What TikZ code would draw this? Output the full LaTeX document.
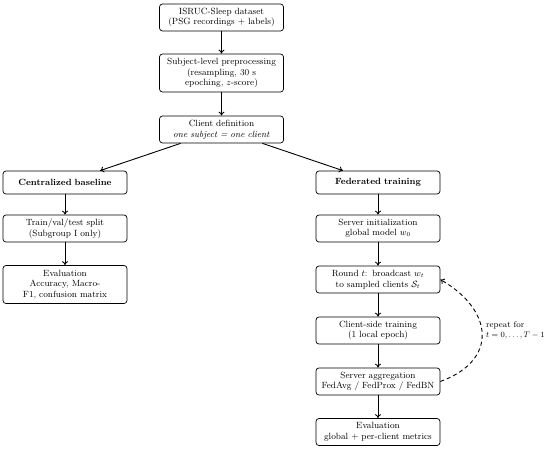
\documentclass[tikz,border=0pt]{standalone}
\usepackage{amsmath}
\usetikzlibrary{arrows.meta}
\begin{document}
\begin{tikzpicture}[x=1pt,y=-1pt,
  font=\fontsize{9}{10.5}\selectfont,
  box/.style={draw, rounded corners=3pt, line width=0.7pt, minimum width=124pt, text width=120pt, align=center, inner xsep=2pt, inner ysep=3pt},
  one/.style={box, minimum height=23pt},
  two/.style={box, minimum height=27pt},
  three/.style={box, minimum height=38pt},
  arr/.style={-{To[length=4pt,width=6pt]}, line width=0.9pt},
  darr/.style={-{To[length=4pt,width=6pt]}, line width=0.9pt, dash pattern=on 4pt off 3pt}
]
\useasboundingbox (0,0) rectangle (550,450);

\node[two]   (data) at (221.5,17.5) {ISRUC-Sleep dataset\\(PSG recordings + labels)};
\node[three] (prep) at (221.5,73)   {Subject-level preprocessing\\(resampling, 30 s\\epoching, $z$-score)};
\node[two]   (cdef) at (221.5,129.5){Client definition\\\textit{one subject = one client}};

\node[one]   (cent) at (65,182.5)   {\textbf{Centralized baseline}};
\node[two]   (split) at (65,228.5)  {Train/val/test split\\(Subgroup I only)};
\node[three] (evl) at (65,284.5)    {Evaluation\\Accuracy, Macro-\\F1, confusion matrix};

\node[one]   (fed) at (378,182.5)   {\textbf{Federated training}};
\node[two]   (init) at (378,228.5)  {Server initialization\\global model $w_0$};
\node[two]   (round) at (378,279.5) {Round $t$: broadcast $w_t$\\to sampled clients $\mathcal{S}_t$};
\node[two]   (ctrain) at (378,330.5){Client-side training\\(1 local epoch)};
\node[two]   (agg) at (378,381.5)   {Server aggregation\\FedAvg / FedProx / FedBN};
\node[two]   (evr) at (378,432)     {Evaluation\\global + per-client metrics};

\draw[arr] (data) -- (prep);
\draw[arr] (prep) -- (cdef);
\draw[arr] (cdef) -- (cent);
\draw[arr] (cdef) -- (fed);
\draw[arr] (cent) -- (split);
\draw[arr] (split) -- (evl);
\draw[arr] (fed) -- (init);
\draw[arr] (init) -- (round);
\draw[arr] (round) -- (ctrain);
\draw[arr] (ctrain) -- (agg);
\draw[arr] (agg) -- (evr);

\draw[darr] (agg.east) to[out=20,in=-30,looseness=1.55] (round.east);
\node[anchor=west, align=left, inner sep=0pt, font=\fontsize{8.4}{10}\selectfont] (rep) at (486,330) {repeat for\\$t=0,\dots,T-1$};
\end{tikzpicture}
\end{document}
